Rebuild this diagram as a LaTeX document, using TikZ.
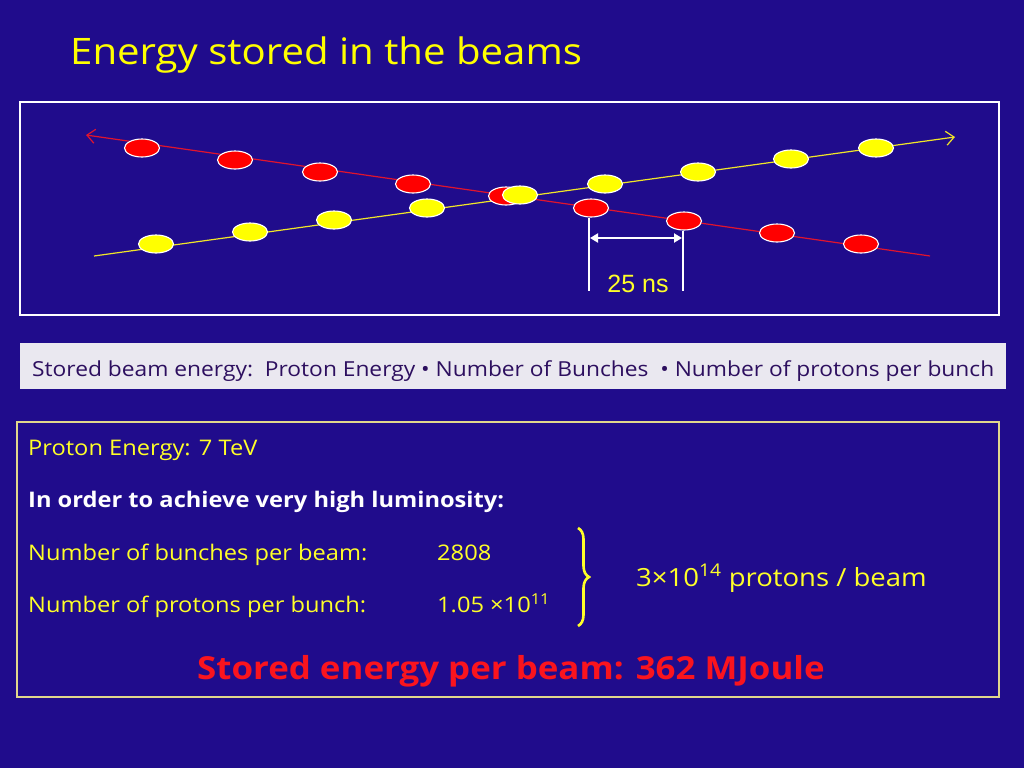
\documentclass[tikz,border=0pt]{standalone}
\usepackage{fontspec}
\setmainfont[FakeStretch=1.1]{Open Sans}
\newfontfamily\arialfont{Liberation Sans}
\usetikzlibrary{shapes.geometric,arrows.meta,decorations.pathreplacing}
\definecolor{bgblue}{RGB}{32,12,140}
\definecolor{bunchred}{RGB}{255,0,0}
\definecolor{bunchyel}{RGB}{255,255,0}
\definecolor{linered}{RGB}{225,20,45}
\definecolor{lineyel}{RGB}{240,230,40}
\definecolor{txtyel}{RGB}{255,255,40}
\definecolor{framekhaki}{RGB}{225,215,140}
\definecolor{greybox}{RGB}{234,232,240}
\definecolor{greytxt}{RGB}{45,15,95}
\definecolor{bigred}{RGB}{250,20,30}
\begin{document}
\begin{tikzpicture}[x=1pt,y=-1pt,
  redbunch/.style={ellipse,draw=white,line width=1.1pt,fill=bunchred,minimum width=35pt,minimum height=18pt,inner sep=0pt},
  yelbunch/.style={ellipse,draw=white,line width=1.1pt,fill=bunchyel,minimum width=35pt,minimum height=18pt,inner sep=0pt},
  beamline/.style={line width=1.2pt},
  ytext/.style={anchor=base west,text=txtyel,inner sep=0pt,font=\fontsize{21.5}{26}\selectfont},
]
\fill[bgblue] (0,0) rectangle (1024,768);
\useasboundingbox (0,0) rectangle (1024,768);

% title
\node[anchor=base west,text=bunchyel,inner sep=0pt,font=\fontsize{36.5}{42}\selectfont] (title) at (70,64) {Energy stored in the beams};

% frame 1
\draw[white,line width=1.3pt] (20,102) rectangle (999,315);

% beam lines
\coordinate (rStart) at (930,256);
\coordinate (rEnd) at (86,135);
\coordinate (yStart) at (94,256);
\coordinate (yEnd) at (955,137);
\draw[beamline,linered,-{Straight Barb[length=8pt,width=14pt,line width=1.2pt]}] (rStart) -- (rEnd);
\draw[beamline,lineyel,-{Straight Barb[length=8pt,width=14pt,line width=1.2pt]}] (yStart) -- (yEnd);

% red bunches
\node[redbunch] (r1) at (142,148) {};
\node[redbunch] (r2) at (235,160) {};
\node[redbunch] (r3) at (320,172) {};
\node[redbunch] (r4) at (413,184) {};
\node[redbunch] (r5) at (506,196) {};
% yellow bunches
\node[yelbunch] (y1) at (156,244) {};
\node[yelbunch] (y2) at (250,232) {};
\node[yelbunch] (y3) at (334,220) {};
\node[yelbunch] (y4) at (427,208) {};
\node[yelbunch] (y5) at (520,195) {};
\node[yelbunch] (y6) at (605,184) {};
\node[yelbunch] (y7) at (698,172) {};
\node[yelbunch] (y8) at (791,159) {};
\node[yelbunch] (y9) at (876,148) {};
\node[redbunch] (r6) at (591,208) {};
\node[redbunch] (r7) at (684,221) {};
\node[redbunch] (r8) at (777,233) {};
\node[redbunch] (r9) at (861,244) {};

% 25 ns dimension
\coordinate (d1) at (589,291);
\coordinate (d2) at (683,291);
\draw[white,line width=1.2pt] (r6.south -| d1) -- (d1);
\draw[white,line width=1.2pt] (r7.south -| d2) -- (d2);
\coordinate (a1) at (590,238);
\coordinate (a2) at (682,238);
\draw[white,line width=2pt,{Triangle[length=8pt,width=9pt]}-{Triangle[length=8pt,width=9pt]}] (a1) -- (a2);
\node[anchor=base,text=txtyel,inner sep=0pt,font=\arialfont\fontsize{25}{30}\selectfont] (ns) at (638,292) {25 ns};

% grey formula box
\fill[greybox] (20,343) rectangle (1006,389);
\node[anchor=base west,text=greytxt,inner sep=0pt,font=\fontsize{20.7}{24}\selectfont] (formula) at (32,376)
  {Stored beam energy:\ \ Proton Energy • Number of Bunches\ \ • Number of protons per bunch};

% frame 2
\draw[framekhaki,line width=1.6pt] (17,422) rectangle (999,697);
\node[ytext] (pe) at (28,455) {Proton Energy: 7 TeV};
\node[anchor=base west,text=white,inner sep=0pt,font=\bfseries\fontsize{21.5}{26}\selectfont] (ord) at (28,507) {In order to achieve very high luminosity:};
\node[ytext] (nb) at (28,560) {Number of bunches per beam:};
\node[ytext] (nbv) at (437,560) {2808};
\node[ytext] (np) at (28,612) {Number of protons per bunch:};
\node[ytext] (npv) at (437,612) {1.05 ×10\textsuperscript{11}};
\coordinate (bt) at (578,528);
\coordinate (bb) at (578,626);
\draw[txtyel,line width=2.6pt,decorate,decoration={brace,amplitude=11pt}] (bt) -- (bb);
\node[ytext,font=\fontsize{25}{30}\selectfont] (tot) at (636,586) {3×10\textsuperscript{14} protons / beam};
\node[anchor=base west,text=bigred,inner sep=0pt,font=\bfseries\fontsize{31.7}{36}\selectfont] (stored) at (197,679) {Stored energy per beam: 362 MJoule};
\end{tikzpicture}
\end{document}
